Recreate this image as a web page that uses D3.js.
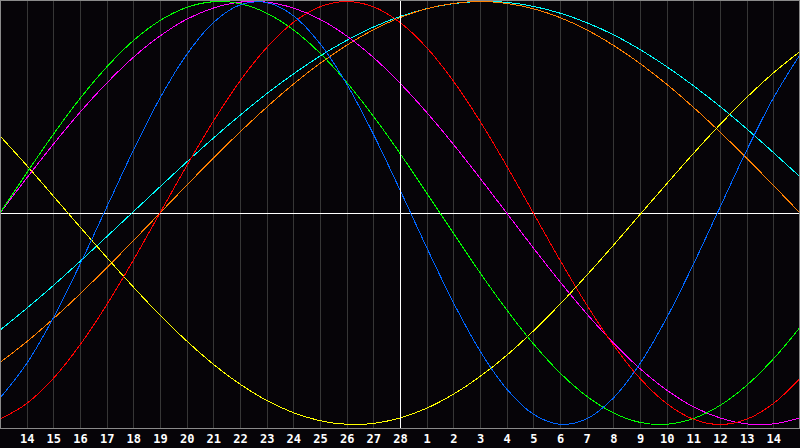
<!DOCTYPE html>
<html><head><meta charset="utf-8">
<script src="https://cdn.jsdelivr.net/npm/d3@7"></script>
<style>html,body{margin:0;padding:0;background:#060408;}svg{display:block;}</style>
</head><body>
<svg id="c" width="800" height="448"></svg>
<script>
// day positions 0..30 (gridline index); labels at 1..29
const dayIndex = d3.range(0, 31);
const dayLabels = [14,15,16,17,18,19,20,21,22,23,24,25,26,27,28,1,2,3,4,5,6,7,8,9,10,11,12,13,14];

// biorhythm values read at each gridline
const physical = [-0.875,-0.712,-0.496,-0.243,0.027,0.296,0.543,0.749,0.900,0.984,0.995,0.933,0.801,0.610,0.373,0.109,-0.163,-0.423,-0.652,-0.832,-0.951,-0.999,-0.973,-0.875,-0.712,-0.496,-0.243,0.027,0.296,0.543,0.749];
const emotional = [-0.975,-0.901,-0.782,-0.624,-0.434,-0.223,0,0.223,0.434,0.624,0.782,0.901,0.975,1,0.975,0.901,0.782,0.624,0.434,0.223,0,-0.223,-0.434,-0.624,-0.782,-0.901,-0.975,-1,-0.975,-0.901,-0.782];
const intellectual = [0,0.189,0.372,0.541,0.690,0.815,0.910,0.972,0.999,0.990,0.945,0.866,0.756,0.618,0.458,0.282,0.095,-0.095,-0.282,-0.458,-0.618,-0.756,-0.866,-0.945,-0.990,-0.999,-0.972,-0.910,-0.815,-0.690,-0.541];
const intuitive = [0,0.165,0.325,0.476,0.614,0.736,0.837,0.916,0.969,0.997,0.997,0.969,0.916,0.837,0.736,0.614,0.476,0.325,0.165,0,-0.165,-0.325,-0.476,-0.614,-0.736,-0.837,-0.916,-0.969,-0.997,-0.997,-0.969];
const aesthetic = [0.364,0.225,0.080,-0.066,-0.210,-0.350,-0.483,-0.605,-0.715,-0.809,-0.886,-0.944,-0.982,-0.999,-0.995,-0.969,-0.923,-0.857,-0.773,-0.673,-0.558,-0.431,-0.295,-0.153,-0.007,0.138,0.281,0.418,0.546,0.662,0.764];
const awareness = [-0.707,-0.609,-0.5,-0.383,-0.259,-0.131,0,0.131,0.259,0.383,0.5,0.609,0.707,0.793,0.866,0.924,0.966,0.991,1,0.991,0.966,0.924,0.866,0.793,0.707,0.609,0.5,0.383,0.259,0.131,0];
const spiritual = [-0.554,-0.451,-0.343,-0.229,-0.112,0.006,0.124,0.241,0.354,0.462,0.564,0.657,0.742,0.816,0.879,0.929,0.966,0.990,1.0,0.996,0.977,0.945,0.900,0.843,0.773,0.692,0.602,0.504,0.398,0.286,0.171];

const seriesNames = ["spiritual","awareness","aesthetic","intuitive","intellectual","emotional","physical"];
const seriesValues = [spiritual, awareness, aesthetic, intuitive, intellectual, emotional, physical];
const seriesColors = ["#00ffff","#ff8000","#ffff00","#ff00ff","#00ff00","#ff0000","#0066ff"];

const svg = d3.select("#c");
const W = 800, H = 448;
const x = d3.scaleLinear().domain([0, 30]).range([0, 800]);
const y = d3.scaleLinear().domain([-1, 1]).range([424.5, 1.5]);

svg.append("rect").attr("width", W).attr("height", H).attr("fill", "#060408");

// grid lines
svg.append("g").selectAll("line").data(d3.range(1, 30)).join("line")
  .attr("x1", d => Math.round(x(d)) + 0.5).attr("x2", d => Math.round(x(d)) + 0.5)
  .attr("y1", 0).attr("y2", 428)
  .attr("stroke", d => d === 15 ? "#ffffff" : "#363636")
  .attr("shape-rendering", "crispEdges");

// zero line
svg.append("line").attr("x1", 0).attr("x2", 800)
  .attr("y1", Math.round(y(0)) + 0.5).attr("y2", Math.round(y(0)) + 0.5)
  .attr("stroke", "#ffffff").attr("shape-rendering", "crispEdges");

// curves
const line = d3.line().x((d, i) => x(dayIndex[i])).y(d => y(d)).curve(d3.curveCatmullRom.alpha(0.5));
svg.append("g").selectAll("path").data(seriesValues).join("path")
  .attr("d", d => line(d))
  .attr("fill", "none")
  .attr("stroke", (d, i) => seriesColors[i])
  .attr("stroke-width", 1)
  .attr("shape-rendering", "crispEdges");

// re-draw the center vertical line on top
svg.append("line").attr("x1", Math.round(x(15)) + 0.5).attr("x2", Math.round(x(15)) + 0.5)
  .attr("y1", 0).attr("y2", 428).attr("stroke", "#ffffff").attr("shape-rendering", "crispEdges");

// border
svg.append("rect").attr("x", 0.5).attr("y", 0.5).attr("width", 799).attr("height", 428)
  .attr("fill", "none").attr("stroke", "#8a8a8a").attr("shape-rendering", "crispEdges");

// axis labels
const axis = d3.axisBottom(x).tickValues(d3.range(1, 30)).tickSize(0).tickPadding(0)
  .tickFormat(d => dayLabels[d - 1]);
const gA = svg.append("g").attr("transform", "translate(0,434)").call(axis);
gA.select(".domain").remove();
gA.selectAll("text").attr("fill", "#ffffff").attr("dy", "0.71em")
  .style("font-family", "'DejaVu Sans Mono', monospace").style("font-weight", "bold").style("font-size", "12px");
</script>
</body></html>
